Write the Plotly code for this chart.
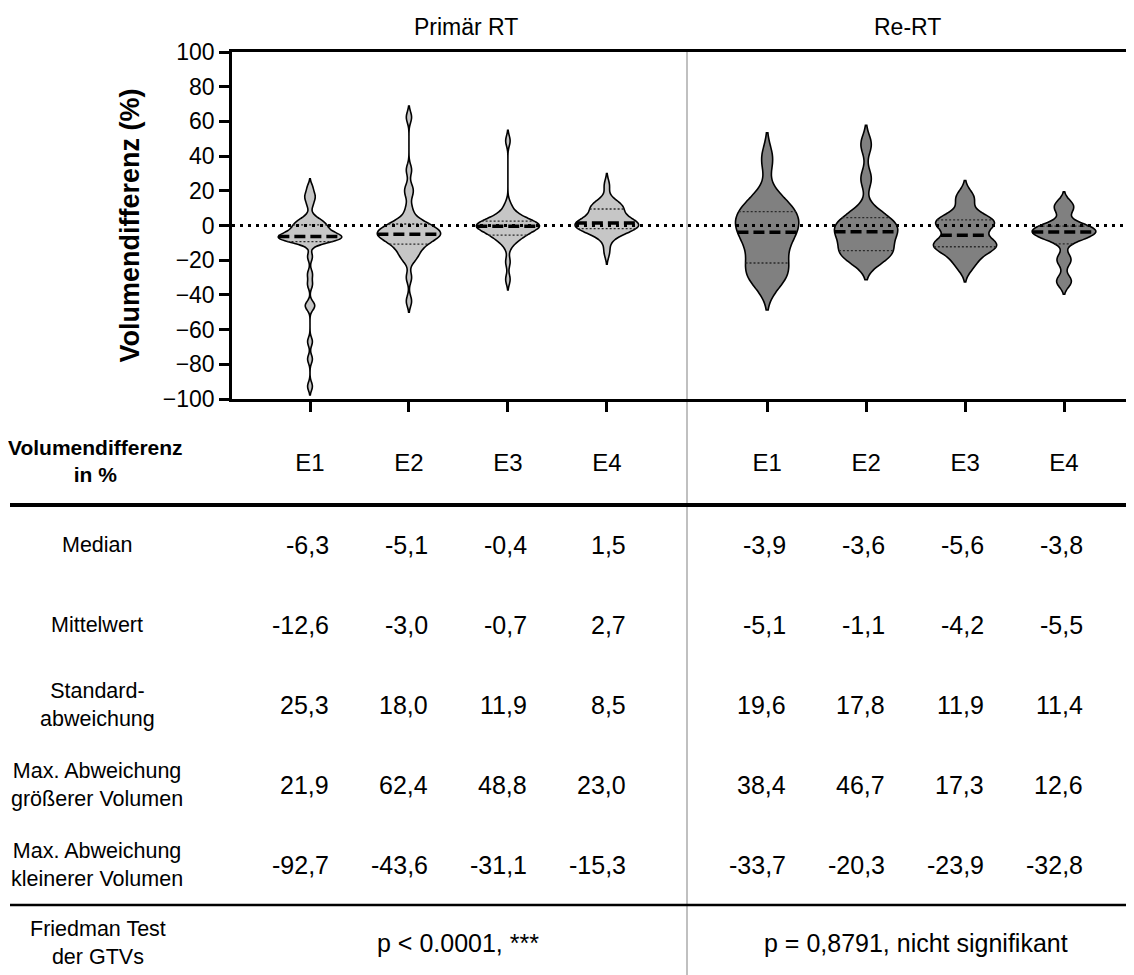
import numpy as np
import plotly.graph_objects as go

# ---------------- data ----------------
categories = ["E1", "E2", "E3", "E4"]

# individual volume differences (%)
prim_e1 = [-92.7, -77, -67, -46.5, -46, -34, -28, -18, -9.5, -8.5, -8.2, -8, -7.8, -7.6, -7.4, -7.2,
           -7, -6.6, -6.0, -5.5, -5, -4.5, -4, -3, -2, -1, 0, 0.5, 1, 2, 3, 5, 12, 16, 17.5, 21.9]
prim_e2 = [-43.6, -30, -20, -18, -16, -14, -12, -11, -10, -9, -8, -7, -6, -5.5, -5.3, -5.2, -5.0,
           -4, -3.5, -3, -2, -1, 0, 0.5, 1, 2, 5, 10, 18, 22, 32, 62.4]
prim_e3 = [-31.1, -21, -12, -9, -7, -6.5, -6, -5, -4, -3, -2, -1.5, -1, -0.7, -0.4, -0.2, 0, 0.2,
           0.5, 1, 1.5, 2, 3, 4, 5, 6, 8, 12, 48.8]
prim_e4 = [-15.3, -8, -5, -3, -2.5, -2, -1.5, -1, -0.5, 0, 0.5, 1, 1.5, 2, 3, 3.5, 4.5, 6, 9, 10,
           10.5, 11.5, 12, 14, 23.0]
re_e1 = [-33.7, -29, -26, -21.6, -16, -10, -6, -3.9, 0, 3, 5, 8, 12, 16, 38.4]
re_e2 = [-20.3, -18, -16, -14.5, -12, -8, -5, -3.6, -2, 0, 2, 4.5, 8, 27, 46.7]
re_e3 = [-23.9, -20, -16, -13, -12, -11, -10.5, -10, -9, -2.2, -1, 0.5, 2, 3, 4, 5, 14, 17.3]
re_e4 = [-32.8, -31.5, -21, -18.5, -8, -7, -6, -5.2, -4.5, -3.1, -2.5, -2, -1, -0.5, 0, 8, 11, 12.6]

# table values
row_labels = ["Median", "Mittelwert", "Standard-<br>abweichung",
              "Max. Abweichung<br>größerer Volumen", "Max. Abweichung<br>kleinerer Volumen"]
prim_median = [-6.3, -5.1, -0.4, 1.5]
prim_mean = [-12.6, -3.0, -0.7, 2.7]
prim_sd = [25.3, 18.0, 11.9, 8.5]
prim_max = [21.9, 62.4, 48.8, 23.0]
prim_min = [-92.7, -43.6, -31.1, -15.3]
re_median = [-3.9, -3.6, -5.6, -3.8]
re_mean = [-5.1, -1.1, -4.2, -5.5]
re_sd = [19.6, 17.8, 11.9, 11.4]
re_max = [38.4, 46.7, 17.3, 12.6]
re_min = [-33.7, -20.3, -23.9, -32.8]
friedman_label = "Friedman Test<br>der GTVs"
friedman_prim = "p < 0.0001, ***"
friedman_re = "p = 0,8791, nicht signifikant"
group_titles = ["Primär RT", "Re-RT"]
table_header = "<b>Volumendifferenz<br>in %</b>"

# ---------------- layout helpers ----------------
OFF = 8                      # page body margin of the browser
W, H = 1134 - OFF, 975 - OFF
FONT = "Liberation Sans, Arial, Helvetica, sans-serif"
FS = 25
FS_LAB = 21.5


def py(p):
    return 1 - (p - OFF) / H


def px(p):
    return (p - OFF) / W


prim_pos = np.arange(4, dtype=float)
re_pos = np.arange(4, dtype=float) + 4.62
sep_pos = (prim_pos[-1] + re_pos[0]) / 2
unit = 754 / (re_pos[-1] - prim_pos[0])
x_range = [-(310 - 232) / unit, re_pos[-1] + (1134 - 1064) / unit]

VW = 0.64  # violin width in x units


def kde_halfwidth(vals, bw, qs):
    vals = np.asarray(vals, float)
    lo, hi = vals.min() - 2 * bw, vals.max() + 2 * bw
    n = int(np.ceil((hi - lo) / (bw / 3)))
    grid = lo + (hi - lo) / n * np.arange(n + 1)

    def dens(t):
        t = np.atleast_1d(t)[:, None]
        return np.exp(-0.5 * ((t - vals[None, :]) / bw) ** 2).sum(axis=1)

    mx = dens(grid).max()
    return VW / 2 * dens(np.asarray(qs)) / mx


fig = go.Figure()

groups = [
    (prim_e1, prim_pos[0], 2.5, "#c6c6c6"),
    (prim_e2, prim_pos[1], 3.2, "#c6c6c6"),
    (prim_e3, prim_pos[2], 3.0, "#c6c6c6"),
    (prim_e4, prim_pos[3], 3.5, "#c6c6c6"),
    (re_e1, re_pos[0], 7.5, "#808080"),
    (re_e2, re_pos[1], 5.5, "#808080"),
    (re_e3, re_pos[2], 4.3, "#808080"),
    (re_e4, re_pos[3], 3.4, "#808080"),
]

for vals, pos, bw, col in groups:
    fig.add_trace(go.Violin(
        x=[pos] * len(vals), y=vals, width=VW, bandwidth=bw, spanmode="soft",
        fillcolor=col, line=dict(color="black", width=1.6), opacity=1,
        points=False, box_visible=False, meanline_visible=False,
        hoverinfo="skip", showlegend=False, scalemode="width",
    ))
    q1, med, q3 = np.percentile(vals, [25, 50, 75], method="weibull")
    hw = kde_halfwidth(vals, bw, [q1, med, q3])
    for q, h in ((q1, hw[0]), (q3, hw[2])):
        fig.add_trace(go.Scatter(
            x=[pos - h, pos + h], y=[q, q], mode="lines",
            line=dict(color="#2a2a2a", width=1.3, dash="2px,2px"),
            hoverinfo="skip", showlegend=False))
    fig.add_trace(go.Scatter(
        x=[pos - hw[1], pos + hw[1]], y=[med, med], mode="lines",
        line=dict(color="black", width=3.5, dash="11px,5px"),
        hoverinfo="skip", showlegend=False))

# zero reference line
fig.add_shape(type="line", xref="x domain", yref="y", x0=0, x1=1, y0=0, y1=0,
              line=dict(color="black", width=3, dash="3px,5px"), layer="above")

# vertical separator
fig.add_shape(type="line", xref="x", yref="paper", x0=sep_pos, x1=sep_pos,
              y0=py(52), y1=0, line=dict(color="#c0c0c0", width=2), layer="below")

# table rules
fig.add_shape(type="line", xref="paper", yref="paper", x0=px(10), x1=1,
              y0=py(505), y1=py(505), line=dict(color="black", width=4))
fig.add_shape(type="line", xref="paper", yref="paper", x0=px(10), x1=1,
              y0=py(905), y1=py(905), line=dict(color="black", width=2.5))

ann = []
# group titles
ann.append(dict(text=group_titles[0], x=prim_pos.mean() + 0.08, xref="x", y=py(27), yref="paper",
                size=23))
ann.append(dict(text=group_titles[1], x=re_pos.mean() - 0.08, xref="x", y=py(27), yref="paper",
                size=23))
# table header
ann.append(dict(text=table_header, x=px(95), xref="paper", y=py(461), yref="paper", size=21))

row_y = [545, 625, 705, 785, 865]
prim_rows = [prim_median, prim_mean, prim_sd, prim_max, prim_min]
re_rows = [re_median, re_mean, re_sd, re_max, re_min]


def fmt(v):
    return f"{v:.1f}".replace(".", ",")


for lab, yy, pr, rr in zip(row_labels, row_y, prim_rows, re_rows):
    ann.append(dict(text=lab, x=px(97), xref="paper", y=py(yy), yref="paper", size=FS_LAB))
    for pos, v in zip(prim_pos, pr):
        ann.append(dict(text=fmt(v), x=pos + 0.21, xref="x", xanchor="right",
                        y=py(yy), yref="paper", size=FS))
    for pos, v in zip(re_pos, rr):
        ann.append(dict(text=fmt(v), x=pos + 0.21, xref="x", xanchor="right",
                        y=py(yy), yref="paper", size=FS))

ann.append(dict(text=friedman_label, x=px(98), xref="paper", y=py(943), yref="paper", size=FS_LAB))
ann.append(dict(text=friedman_prim, x=prim_pos.mean(), xref="x", y=py(943), yref="paper", size=FS))
ann.append(dict(text=friedman_re, x=re_pos.mean(), xref="x", y=py(943), yref="paper", size=FS))

for a in ann:
    a.setdefault("xanchor", "center")
    sz = a.pop("size")
    a.update(yanchor="middle", showarrow=False, font=dict(family=FONT, size=sz, color="black"))

fig.update_layout(
    width=W, height=H, margin=dict(l=0, r=0, t=0, b=0, autoexpand=False),
    paper_bgcolor="white", plot_bgcolor="white",
    font=dict(family=FONT, size=FS, color="black"),
    showlegend=False, violinmode="overlay", violingap=0,
    annotations=ann,
    xaxis=dict(domain=[px(232), 1], range=x_range, showgrid=False, zeroline=False,
               automargin=False,
               showline=True, linecolor="black", linewidth=2.5, mirror=True,
               tickvals=list(prim_pos) + list(re_pos), ticktext=categories * 2,
               ticks="outside", ticklen=10, tickwidth=2.5, tickcolor="black",
               ticklabelstandoff=30, tickfont=dict(family=FONT, size=24)),
    yaxis=dict(domain=[py(399), py(52)], range=[-100, 100], showgrid=False, zeroline=False,
               automargin=False,
               showline=True, linecolor="black", linewidth=2.5,
               tickvals=list(range(-100, 101, 20)), ticks="outside", ticklen=10,
               tickwidth=2.5, tickcolor="black", tickfont=dict(family=FONT, size=23),
               title=dict(text="<b>Volumendifferenz (%)</b>", font=dict(family=FONT, size=27),
                          standoff=16)),
)

fig.write_html("out.html")
